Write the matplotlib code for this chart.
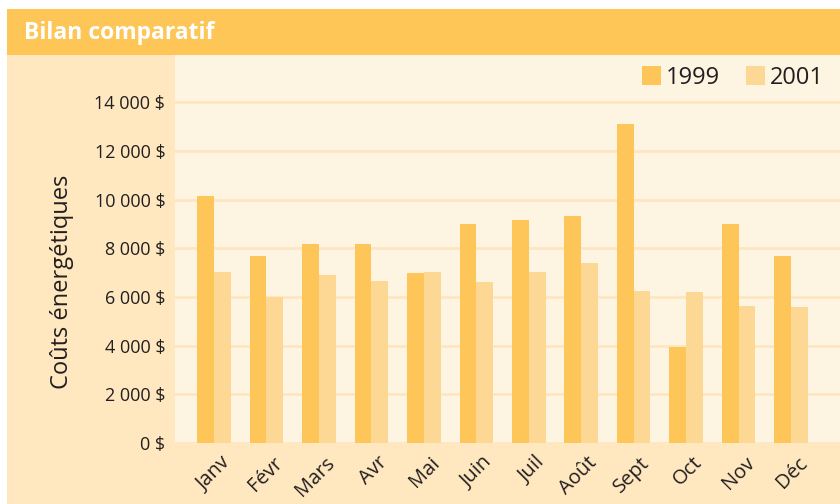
import numpy as np
import matplotlib
matplotlib.use("Agg")
import matplotlib.pyplot as plt
from matplotlib.patches import Rectangle
from matplotlib.ticker import FuncFormatter
import matplotlib.transforms as mtransforms

plt.rcParams['font.family'] = ['Open Sans', 'DejaVu Sans']

# data
mois = ["Janv", "Févr", "Mars", "Avr", "Mai", "Juin", "Juil", "Août", "Sept", "Oct", "Nov", "Déc"]
couts_1999 = [10150, 7700, 8200, 8200, 7000, 9000, 9150, 9350, 13100, 3950, 9000, 7700]
couts_2001 = [7050, 6000, 6900, 6650, 7050, 6600, 7050, 7400, 6250, 6200, 5650, 5600]
annees = ["1999", "2001"]

c_1999 = "#FEC659"
c_2001 = "#FDD895"
c_banner = "#FEC557"
c_outer = "#FFE8C0"
c_plot = "#FEF4E2"
c_grid = "#FDE6C2"
c_text = "#231F20"

fig = plt.figure(figsize=(8.4, 5.04), dpi=100)
fig.patch.set_facecolor("white")

# outer cream panel and title banner
fig.patches.append(Rectangle((7 / 840, 0), 1, 1 - 55 / 504, transform=fig.transFigure,
                             facecolor=c_outer, edgecolor="none", zorder=-2))
fig.patches.append(Rectangle((7 / 840, 1 - 55 / 504), 1, 46 / 504, transform=fig.transFigure,
                             facecolor=c_banner, edgecolor="none", zorder=-2))
fig.text(24 / 840, 1 - 33 / 504, "Bilan comparatif", color="white", fontsize=16.5,
         fontweight="bold", va="center", ha="left")

ax = fig.add_axes([175 / 840, 1 - 443 / 504, 665 / 840, (443 - 55) / 504])
ax.set_facecolor(c_plot)

x = np.arange(len(mois))
w = 0.32
ax.bar(x - w / 2, couts_1999, w, color=c_1999, label=annees[0], zorder=2)
ax.bar(x + w / 2, couts_2001, w, color=c_2001, label=annees[1], zorder=2)

ax.set_xlim(-0.744, 11.934)
ax.set_ylim(0, 15950)
ax.set_yticks(np.arange(0, 14001, 2000))
ax.yaxis.set_major_formatter(FuncFormatter(lambda v, p: f"{int(v):,} $".replace(",", " ")))
ax.grid(axis="y", color=c_grid, linewidth=2, zorder=1)
ax.set_axisbelow(True)
for s in ax.spines.values():
    s.set_visible(False)
ax.tick_params(length=0, labelsize=13, labelcolor=c_text)
ax.tick_params(axis="y", pad=7)

ax.set_xticks(x)
ax.set_xticklabels(mois, rotation=45, ha="right", rotation_mode="anchor", fontsize=14.5)
offset = mtransforms.ScaledTranslation(6 / 100, -5 / 100, fig.dpi_scale_trans)
for lab in ax.get_xticklabels():
    lab.set_transform(lab.get_transform() + offset)

fig.text(62 / 840, 1 - 282 / 504, "Coûts énergétiques", rotation=90, fontsize=17,
         color=c_text, ha="center", va="center")

leg = ax.legend(loc="upper right", bbox_to_anchor=(1.0, 1.015), ncol=2, frameon=False,
                fontsize=17, handlelength=0.8, handleheight=0.8, handletextpad=0.2,
                columnspacing=1.1, borderaxespad=0.3)
for t in leg.get_texts():
    t.set_color(c_text)

fig.savefig("out.png", dpi=100, facecolor=fig.get_facecolor())
